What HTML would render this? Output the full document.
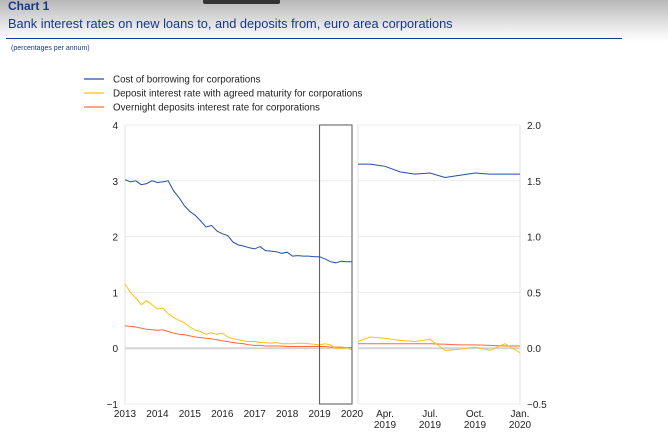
<!DOCTYPE html>
<html><head><meta charset="utf-8"><style>
body{margin:0;width:668px;height:444px;overflow:hidden;background:#fff;font-family:"Liberation Sans",sans-serif;position:relative}
.hdr{position:absolute;left:0;top:0;width:668px;height:42px;background:linear-gradient(#b8b8b8,#f4f4f4 80%,#fff)}
</style></head><body>
<div class="hdr"></div>
<div style="position:absolute;left:203px;top:0;width:77px;height:4px;background:#333;border-radius:0 0 2px 2px"></div>
<div style="position:absolute;left:8px;top:-1px;font-size:12px;font-weight:bold;color:#153a8a">Chart 1</div>
<div style="position:absolute;left:8px;top:16px;font-size:12.8px;color:#153a8a">Bank interest rates on new loans to, and deposits from, euro area corporations</div>
<div style="position:absolute;left:6px;top:38px;width:616px;height:1px;background:#153a8a"></div>
<div style="position:absolute;left:11px;top:45px;font-size:7px;color:#153a8a">(percentages per annum)</div>
<svg id="c" width="668" height="444" style="position:absolute;left:0;top:0" font-family="Liberation Sans, sans-serif"></svg>
<script>
const leftBlue=[3.02,2.98,3.0,2.93,2.95,3.0,2.97,2.98,3.0,2.82,2.7,2.55,2.45,2.38,2.28,2.17,2.2,2.1,2.05,2.02,1.9,1.85,1.83,1.8,1.78,1.82,1.75,1.74,1.73,1.7,1.72,1.65,1.66,1.65,1.65,1.64,1.64,1.6,1.55,1.53,1.56,1.55,1.55];
const leftYellow=[1.15,1.0,0.9,0.78,0.85,0.78,0.7,0.72,0.62,0.55,0.5,0.45,0.38,0.32,0.3,0.25,0.28,0.25,0.27,0.2,0.17,0.15,0.13,0.12,0.12,0.1,0.1,0.09,0.1,0.08,0.08,0.08,0.09,0.09,0.08,0.07,0.06,0.08,0.06,0.0,0.0,0.01,-0.03];
const leftRed=[0.4,0.39,0.38,0.36,0.34,0.33,0.32,0.33,0.3,0.27,0.25,0.24,0.22,0.2,0.19,0.18,0.17,0.15,0.13,0.12,0.1,0.09,0.08,0.06,0.05,0.05,0.04,0.04,0.04,0.04,0.03,0.03,0.03,0.03,0.03,0.03,0.03,0.03,0.02,0.02,0.02,0.01,0.01];
const rightBlue=[1.65,1.65,1.63,1.58,1.56,1.57,1.53,1.55,1.57,1.56,1.56,1.56];
const rightYellow=[0.06,0.10,0.09,0.07,0.06,0.08,-0.02,-0.01,0.01,-0.02,0.04,-0.04];
const rightRed=[0.04,0.04,0.04,0.04,0.04,0.04,0.035,0.03,0.03,0.025,0.02,0.02];
const leftTicks=[4,3,2,1,0,-1];
const rightTicks=["2.0","1.5","1.0","0.5","0.0","-0.5"];
const yearLabels=["2013","2014","2015","2016","2017","2018","2019","2020"];
const monthLabels=[["Apr.","2019",3],["Jul.","2019",6],["Oct.","2019",9],["Jan.","2020",12]];
const legend=[["Cost of borrowing for corporations","#1f4fb0"],["Deposit interest rate with agreed maturity for corporations","#ffc20e"],["Overnight deposits interest rate for corporations","#ff7043"]];
const svg=document.getElementById('c'),NS="http://www.w3.org/2000/svg";
function mk(t,a,txt){const e=document.createElementNS(NS,t);for(const k in a)e.setAttribute(k,a[k]);if(txt!=null)e.textContent=txt;svg.appendChild(e);return e;}
const X0=125,X1=352,T=125,B=404,RX0=358,RX1=520;
const ly=v=>T+(4-v)*(B-T)/5, lx=t=>X0+t*(X1-X0)/7;
const ry=v=>T+(2-v)*(B-T)/2.5, rx=m=>385+(m-3)*15.0;
legend.forEach((l,i)=>{const y=79+i*14;
 const ln=mk('line',{x1:84,x2:104,y1:y,y2:y,stroke:l[1],'stroke-width':1.2});
 
 const t=mk('text',{x:113,y:y+3.5,'font-size':9.8,fill:'#222'},l[0]);
 });
leftTicks.forEach(v=>{const y=ly(v);
 const g=mk('line',{x1:X0,x2:X1,y1:y,y2:y,stroke:v===0?'#d4d4d4':'#ececec','stroke-width':v===0?2:1});
 
 const t=mk('text',{x:118,y:y+4,'font-size':10,'text-anchor':'end',fill:'#222'},v===-1?'\u22121':String(v));
 });
rightTicks.forEach((s,i)=>{const v=parseFloat(s),y=ry(v);
 const g=mk('line',{x1:RX0,x2:RX1,y1:y,y2:y,stroke:v===0?'#d4d4d4':'#ececec','stroke-width':v===0?2:1});
 
 const t=mk('text',{x:527,y:y+4,'font-size':10,fill:'#222'},s.replace('-','\u2212'));
 });
[[X0,X1],[RX0,RX1]].forEach(p=>{p.forEach(x=>{const l=mk('line',{x1:x,x2:x,y1:T,y2:B,stroke:'#e0e0e0'});});});
yearLabels.forEach((s,i)=>{const t=mk('text',{x:lx(i),y:417,'font-size':10,'text-anchor':'middle',fill:'#222'},s);
 });
monthLabels.forEach(m=>{const x=rx(m[2]);
 const a=mk('text',{x:x,y:417,'font-size':10,'text-anchor':'middle',fill:'#222'},m[0]);
 
 const b=mk('text',{x:x,y:428,'font-size':10,'text-anchor':'middle',fill:'#222'},m[1]);
 });
function series(arr,xf,yf,col,name){const pts=arr.map((v,i)=>xf(i).toFixed(1)+','+yf(v).toFixed(1)).join(' ');
 const p=mk('polyline',{points:pts,fill:'none',stroke:col,'stroke-width':1});
 }
const lstep=i=>lx(i*7/(leftBlue.length-1));
series(leftRed,lstep,ly,'#ff6a3d','overnight-line-left');
series(leftYellow,lstep,ly,'#ffc20e','deposit-line-left');
series(leftBlue,lstep,ly,'#1f4fb0','borrowing-line-left');
const rstep=i=>Math.max(RX0,Math.min(RX1,rx(i+1)));
series(rightRed,rstep,ry,'#ff6a3d','overnight-line-right');
series(rightYellow,rstep,ry,'#ffc20e','deposit-line-right');
series(rightBlue,rstep,ry,'#1f4fb0','borrowing-line-right');
const bx=mk('rect',{x:lx(6),y:T,width:lx(7)-lx(6),height:B-T,fill:'none',stroke:'#555','stroke-width':1});

</script>
</body></html>
